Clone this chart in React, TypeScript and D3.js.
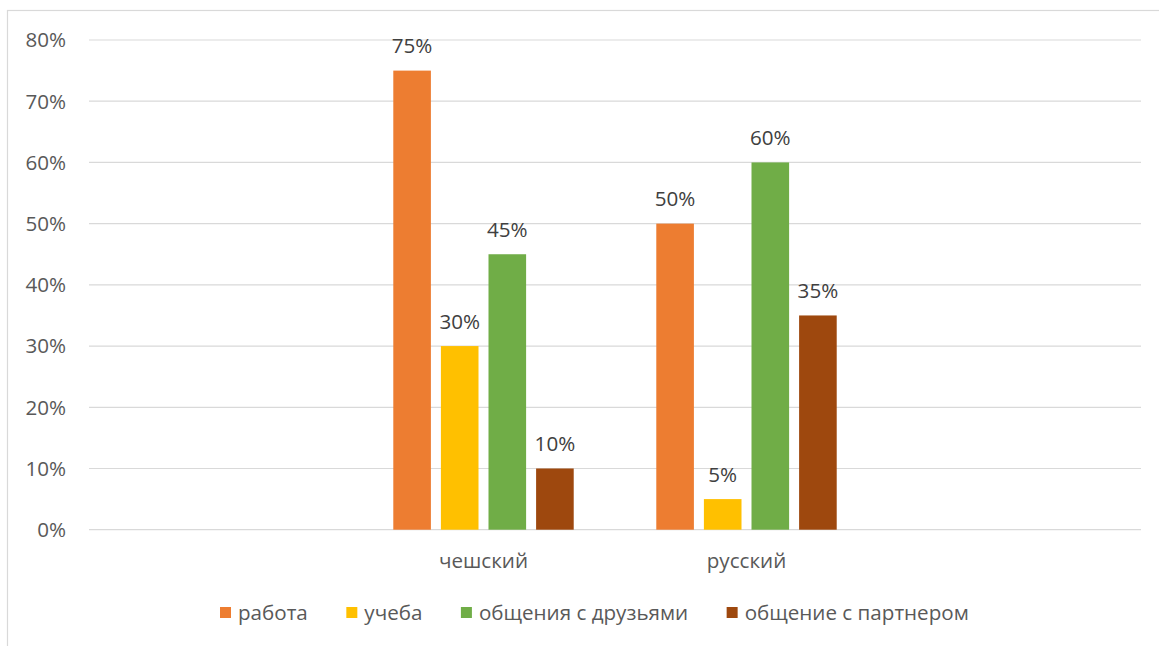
import React, { useEffect, useRef } from "react";
import * as d3 from "d3";

const categories = ["чешский", "русский"];
const seriesNames = ["работа", "учеба", "общения с друзьями", "общение с партнером"];
const seriesColors = ["#ED7D31", "#FFC000", "#70AD47", "#9E480E"];
const rabota = [75, 50];
const ucheba = [30, 5];
const druzya = [45, 60];
const partner = [10, 35];
const seriesValues = [rabota, ucheba, druzya, partner];
const yTicks = [0, 10, 20, 30, 40, 50, 60, 70, 80];

const W = 1159;
const H = 646;
const FONT = "'Open Sans', 'Noto Sans', sans-serif";
const FS = 20.6;

export default function App() {
  const ref = useRef<SVGSVGElement | null>(null);

  useEffect(() => {
    const svg = d3.select(ref.current);
    svg.selectAll("*").remove();

    const left = 89, right = 1141, top = 40, bottom = 529.7;

    // chart border (cut by window on right/bottom)
    svg.append("rect")
      .attr("x", 7.5).attr("y", 10.5)
      .attr("width", 1300).attr("height", 800)
      .attr("fill", "#fff").attr("stroke", "#d9d9d9").attr("stroke-width", 1.2);

    const y = d3.scaleLinear().domain([0, 80]).range([bottom, top]);
    const domain = ["pad0", ...categories, "pad1"];
    const x0 = d3.scaleBand().domain(domain).range([left, right])
      .paddingInner(0.314).paddingOuter(0.157);
    const x1 = d3.scaleBand().domain(seriesNames).range([0, x0.bandwidth()])
      .paddingInner(0.21).paddingOuter(0);

    // gridlines
    svg.append("g").selectAll("line").data(yTicks).join("line")
      .attr("x1", left).attr("x2", right)
      .attr("y1", d => y(d)).attr("y2", d => y(d))
      .attr("stroke", "#d9d9d9").attr("stroke-width", 1.2);

    // y labels
    svg.append("g").selectAll("text").data(yTicks).join("text")
      .attr("x", 66).attr("y", d => y(d)).attr("dy", "0.36em")
      .attr("text-anchor", "end")
      .attr("font-family", FONT).attr("font-size", FS).attr("fill", "#595959")
      .text(d => `${d}%`);

    // bars
    const g = svg.append("g");
    seriesNames.forEach((s, si) => {
      categories.forEach((c, ci) => {
        const v = seriesValues[si][ci];
        const bx = (x0(c) as number) + (x1(s) as number);
        g.append("rect")
          .attr("x", bx).attr("y", y(v))
          .attr("width", x1.bandwidth()).attr("height", y(0) - y(v))
          .attr("fill", seriesColors[si]);
        g.append("text")
          .attr("x", bx + x1.bandwidth() / 2).attr("y", y(v) - 17.5)
          .attr("text-anchor", "middle")
          .attr("font-family", FONT).attr("font-size", FS).attr("fill", "#404040")
          .text(`${v}%`);
      });
    });

    // category labels
    svg.append("g").selectAll("text").data(categories).join("text")
      .attr("x", d => (x0(d) as number) + x0.bandwidth() / 2).attr("y", 568)
      .attr("text-anchor", "middle")
      .attr("font-family", FONT).attr("font-size", FS).attr("fill", "#595959")
      .text(d => d);

    // legend
    const lg = svg.append("g");
    let lx = 220;
    seriesNames.forEach((s, i) => {
      lg.append("rect").attr("x", lx).attr("y", 607).attr("width", 11).attr("height", 11)
        .attr("fill", seriesColors[i]);
      const t = lg.append("text").attr("x", lx + 18).attr("y", 619.5)
        .attr("font-family", FONT).attr("font-size", FS).attr("fill", "#595959")
        .text(s);
      const w = (t.node() as SVGTextElement).getComputedTextLength();
      lx = lx + 18 + w + 38.5;
    });
  }, []);

  return (
    <svg ref={ref} width={W} height={H}
      style={{ position: "absolute", left: 0, top: 0, display: "block" }} />
  );
}
